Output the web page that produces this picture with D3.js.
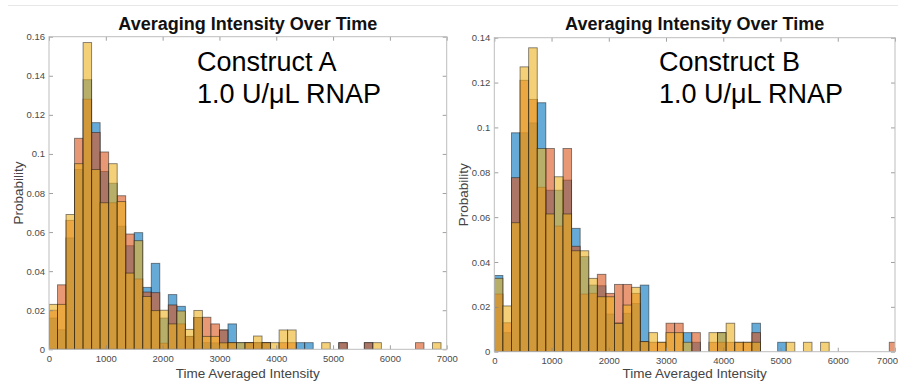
<!DOCTYPE html>
<html>
<head>
<meta charset="utf-8">
<script src="https://cdn.jsdelivr.net/npm/d3@7/dist/d3.min.js"></script>
<style>
  html, body { margin: 0; padding: 0; background: #fff; }
  svg { display: block; font-family: "Liberation Sans", Arial, Helvetica, sans-serif; }
</style>
</head>
<body>
<svg id="chart" width="898" height="386"></svg>
<script>
// ---------- DATA ----------
const binStarts = [0,150,300,450,600,750,900,1050,1200,1350,1500,1650,1800,1950,2100,2250,2400,2550,2700,2850,
  3000,3150,3300,3450,3600,3750,3900,4050,4200,4350,4500,4650,4800,4950,5100,5250,5400,5550,5700,5850,
  6000,6150,6300,6450,6600,6750,6900];
const binWidth = 150;

const xTicks = [0,1000,2000,3000,4000,5000,6000,7000];
const yTicksA = [0,0.02,0.04,0.06,0.08,0.1,0.12,0.14,0.16];
const yTickLabelsA = ["0","0.02","0.04","0.06","0.08","0.1","0.12","0.14","0.16"];
const yTicksB = [0,0.02,0.04,0.06,0.08,0.1,0.12,0.14];
const yTickLabelsB = ["0","0.02","0.04","0.06","0.08","0.1","0.12","0.14"];

const seriesNames = ["series1","series2","series3"];
const seriesColors = ["#0072BD","#D95319","#EDB120"];

// Construct A
const aBlue = [0.016,0.010,0.057,0.092,0.138,0.116,0.091,0.085,0.063,0.053,0.0597,0.0317,0.044,0.016,0.028,0.022,0.0066,0.0163,0.0034,0.0033,
  0.0099,0.013,0.0034,0.0034,0.0034,0.0034,0,0,0,0.0034,0.0034,0,0,0,0.0034,0,0,0.0034,0,0,
  0,0,0,0,0,0,0];
const aRed = [0.020,0.033,0.066,0.108,0.128,0.111,0.101,0.075,0.0786,0.059,0.036,0.0293,0.029,0.0031,0.0227,0.013,0.0066,0.0163,0.0164,0.013,
  0.0099,0.0034,0,0.0034,0.0034,0.0034,0,0.0034,0.0034,0,0,0,0,0,0.0034,0,0,0.0034,0,0,
  0,0,0,0.0034,0,0,0];
const aYellow = [0.023,0.023,0.069,0.095,0.157,0.092,0.075,0.095,0.0756,0.039,0.0556,0.027,0.0198,0.020,0.013,0.0196,0.0102,0.0199,0.0066,0.0066,
  0.0033,0.0034,0.0034,0.0034,0.0068,0.0034,0.0034,0.0099,0.0099,0,0,0,0.0034,0,0,0,0,0,0.0034,0,
  0,0,0,0,0,0.0034,0];

// Construct B
const bBlue = [0.034,0.0085,0.0976,0.0976,0.102,0.111,0.072,0.072,0.0765,0.055,0.0424,0.0297,0.0294,0.0168,0.0129,0.0171,0.0215,0.0297,0,0,
  0,0,0.0085,0.0042,0,0,0.0085,0,0,0,0.0127,0,0,0.0042,0,0,0,0,0,0,
  0,0,0,0,0,0,0];
const bRed = [0.0257,0.0129,0.0776,0.121,0.1125,0.0733,0.0906,0.056,0.0906,0.047,0.0257,0.026,0.0345,0.026,0.030,0.030,0.026,0.0045,0.0042,0.0042,
  0.0127,0.0127,0,0.0085,0,0.0042,0.0042,0.0042,0.0042,0.0042,0.0085,0,0,0,0,0,0,0,0,0,
  0,0,0,0,0,0,0.0042];
const bYellow = [0.0327,0.0204,0.0575,0.127,0.1355,0.0906,0.0614,0.078,0.0614,0.045,0.045,0.0327,0.0245,0.0245,0.0126,0.0208,0.0287,0.0045,0.0085,0.0042,
  0.0085,0.0085,0.0042,0,0,0.0085,0.0085,0.0127,0.0042,0.0042,0.0042,0,0,0,0.0042,0,0.0042,0,0.0042,0,
  0,0,0,0,0,0,0];

const titleText = "Averaging Intensity Over Time";
const xLabelText = "Time Averaged Intensity";
const yLabelText = "Probability";

const panels = [
  { id: "A", series: [aBlue, aRed, aYellow], yMax: 0.16, yTicks: yTicksA, yLabels: yTickLabelsA,
    left: 49, right: 446.7, top: 36.7, bottom: 349.3,
    note: ["Construct A", "1.0 U/\u03bcL RNAP"], noteX: 197, yLabelX: 17.5 },
  { id: "B", series: [bBlue, bRed, bYellow], yMax: 0.14, yTicks: yTicksB, yLabels: yTickLabelsB,
    left: 494.3, right: 895, top: 37.7, bottom: 351.7,
    note: ["Construct B", "1.0 U/\u03bcL RNAP"], noteX: 659, yLabelX: 462.7 }
];

// ---------- DRAW ----------
const svg = d3.select("#chart");
svg.append("rect").attr("width", 898).attr("height", 386).attr("fill", "#fff");
svg.append("line").attr("x1", 8).attr("x2", 898).attr("y1", 5.5).attr("y2", 5.5)
  .attr("stroke", "#e8e8e8").attr("stroke-width", 1);

panels.forEach(p => {
  const x = d3.scaleLinear().domain([0, 7000]).range([p.left, p.right]);
  const y = d3.scaleLinear().domain([0, p.yMax]).range([p.bottom, p.top]);
  const g = svg.append("g").attr("class", "panel-" + p.id);

  const clipId = "clip" + p.id;
  svg.append("defs").append("clipPath").attr("id", clipId)
    .append("rect").attr("x", p.left).attr("y", p.top - 1)
    .attr("width", p.right - p.left).attr("height", p.bottom - p.top + 1);

  const bars = g.append("g").attr("clip-path", `url(#${clipId})`);
  p.series.forEach((vals, si) => {
    const data = binStarts.map((b, i) => ({ b, v: vals[i] })).filter(d => d.v > 0);
    bars.append("g").attr("class", seriesNames[si])
      .selectAll("rect").data(data).join("rect")
      .attr("x", d => x(d.b))
      .attr("width", d => x(d.b + binWidth) - x(d.b))
      .attr("y", d => y(d.v))
      .attr("height", d => y(0) - y(d.v))
      .attr("fill", seriesColors[si])
      .attr("fill-opacity", 0.6)
      .attr("stroke", "#1a1a1a")
      .attr("stroke-opacity", 0.55)
      .attr("stroke-width", 0.9);
  });

  const axisColor = "#bdbdbd";
  const tickTextColor = "#4a4a4a";

  const xb = g.append("g").attr("transform", `translate(0,${p.bottom})`)
    .call(d3.axisBottom(x).tickValues(xTicks).tickSize(-4).tickPadding(6).tickFormat(d3.format("d")));
  const xt = g.append("g").attr("transform", `translate(0,${p.top})`)
    .call(d3.axisTop(x).tickValues(xTicks).tickSize(-4).tickFormat(""));
  const yl = g.append("g").attr("transform", `translate(${p.left},0)`)
    .call(d3.axisLeft(y).tickValues(p.yTicks).tickSize(-4).tickPadding(4)
      .tickFormat((d, i) => p.yLabels[i]));
  const yr = g.append("g").attr("transform", `translate(${p.right},0)`)
    .call(d3.axisRight(y).tickValues(p.yTicks).tickSize(-4).tickFormat(""));

  [xb, xt, yl, yr].forEach(a => {
    a.select(".domain").remove();
    a.selectAll(".tick line").attr("stroke", "#888").attr("stroke-width", 0.8);
    a.selectAll("text").attr("fill", tickTextColor).attr("font-size", "9.5px")
      .attr("font-family", "Liberation Sans, Arial, sans-serif");
  });

  // keep the last x tick label inside the picture for the right-hand panel
  if (p.id === "B") {
    xb.selectAll(".tick text").filter(d => d === 7000)
      .attr("text-anchor", "end").attr("x", 898 - p.right - 0.5);
  }

  g.append("rect").attr("x", p.left).attr("y", p.top)
    .attr("width", p.right - p.left).attr("height", p.bottom - p.top)
    .attr("fill", "none").attr("stroke", axisColor).attr("stroke-width", 1);

  const cx = (p.left + p.right) / 2;
  g.append("text").attr("x", cx).attr("y", 29.5).attr("text-anchor", "middle")
    .attr("font-size", "18px").attr("font-weight", "bold").attr("fill", "#111")
    .text(titleText);

  g.append("text").attr("x", cx).attr("y", 378).attr("text-anchor", "middle")
    .attr("font-size", "13.5px").attr("fill", "#444").text(xLabelText);

  g.append("text").attr("transform", `translate(${p.yLabelX + 5},${(p.top + p.bottom) / 2}) rotate(-90)`)
    .attr("text-anchor", "middle").attr("font-size", "13.5px").attr("fill", "#444").text(yLabelText);

  g.append("text").attr("x", p.noteX).attr("y", 70.7)
    .attr("font-size", "27px").attr("fill", "#000").text(p.note[0]);
  g.append("text").attr("x", p.noteX).attr("y", 103)
    .attr("font-size", "27px").attr("fill", "#000").text(p.note[1]);
});
</script>
</body>
</html>
